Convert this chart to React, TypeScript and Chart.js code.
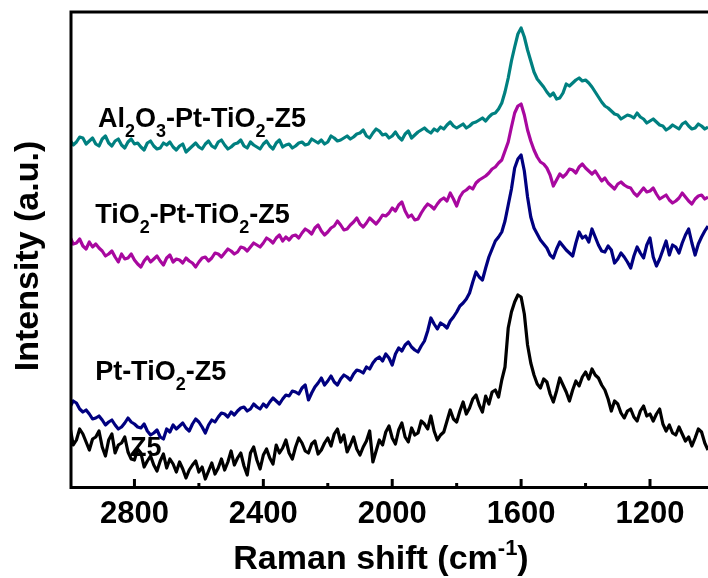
import React, { useEffect, useRef } from "react";
import { Chart, registerables } from "chart.js";

Chart.register(...registerables);

// Raman shift grid (cm^-1) at 10 cm^-1 steps
const WAVENUMBERS = [
  3000, 2990, 2980, 2970, 2960, 2950, 2940, 2930, 2920, 2910, 2900, 2890, 2880, 2870, 2860, 2850, 2840, 2830, 2820, 2810,
  2800, 2790, 2780, 2770, 2760, 2750, 2740, 2730, 2720, 2710, 2700, 2690, 2680, 2670, 2660, 2650, 2640, 2630, 2620, 2610,
  2600, 2590, 2580, 2570, 2560, 2550, 2540, 2530, 2520, 2510, 2500, 2490, 2480, 2470, 2460, 2450, 2440, 2430, 2420, 2410,
  2400, 2390, 2380, 2370, 2360, 2350, 2340, 2330, 2320, 2310, 2300, 2290, 2280, 2270, 2260, 2250, 2240, 2230, 2220, 2210,
  2200, 2190, 2180, 2170, 2160, 2150, 2140, 2130, 2120, 2110, 2100, 2090, 2080, 2070, 2060, 2050, 2040, 2030, 2020, 2010,
  2000, 1990, 1980, 1970, 1960, 1950, 1940, 1930, 1920, 1910, 1900, 1890, 1880, 1870, 1860, 1850, 1840, 1830, 1820, 1810,
  1800, 1790, 1780, 1770, 1760, 1750, 1740, 1730, 1720, 1710, 1700, 1690, 1680, 1670, 1660, 1650, 1640, 1630, 1620, 1610,
  1600, 1590, 1580, 1570, 1560, 1550, 1540, 1530, 1520, 1510, 1500, 1490, 1480, 1470, 1460, 1450, 1440, 1430, 1420, 1410,
  1400, 1390, 1380, 1370, 1360, 1350, 1340, 1330, 1320, 1310, 1300, 1290, 1280, 1270, 1260, 1250, 1240, 1230, 1220, 1210,
  1200, 1190, 1180, 1170, 1160, 1150, 1140, 1130, 1120, 1110, 1100, 1090, 1080, 1070, 1060, 1050, 1040, 1030, 1020,
];

// Intensities (a.u., offset-stacked as in the figure)
const AL2O3_PT_TIO2_Z5 = [
  349, 344, 347, 352, 351, 345, 348, 351, 345, 343, 350, 353, 346, 343, 348, 350, 344, 341, 347, 350,
  345, 346, 342, 339, 346, 348, 343, 340, 341, 346, 344, 347, 342, 339, 343, 345, 337, 340, 343, 346,
  342, 340, 345, 348, 343, 341, 347, 349, 344, 340, 342, 345, 346, 349, 343, 341, 347, 344, 342, 340,
  345, 348, 343, 340, 346, 349, 342, 344, 345, 341, 343, 346, 347, 344, 345, 350, 348, 346, 349, 345,
  347, 353, 351, 348, 349, 351, 353, 350, 352, 355, 356, 359, 353, 351, 356, 360, 358, 354, 355, 351,
  353, 357, 352, 349, 355, 358, 351, 354, 357, 359, 361, 358, 356, 360, 358, 362, 360, 364, 367, 363,
  361, 363, 365, 361, 363, 366, 367, 369, 371, 368, 372, 375, 376, 380, 386, 397, 411, 428, 442, 455,
  461, 452, 439, 428, 417, 410, 406, 402, 397, 393, 396, 390, 391, 396, 405, 403, 406, 409, 411, 408,
  409, 406, 402, 397, 392, 387, 383, 381, 378, 375, 374, 370, 372, 374, 373, 371, 376, 372, 370, 366,
  368, 370, 367, 364, 363, 359, 361, 364, 362, 360, 365, 367, 363, 360, 361, 365, 363, 360, 362,
];

const TIO2_PT_TIO2_Z5 = [
  252, 245, 246, 250, 243, 240, 247, 242, 245, 241, 238, 233, 235, 238, 232, 227, 235, 230, 231, 235,
  229, 225, 222, 228, 232, 227, 230, 233, 228, 224, 231, 234, 227, 230, 229, 226, 231, 228, 226, 222,
  227, 231, 232, 228, 231, 236, 235, 232, 236, 240, 238, 235, 237, 242, 241, 238, 242, 246, 244, 242,
  246, 251, 249, 246, 251, 254, 248, 252, 249, 253, 254, 251, 256, 260, 258, 255, 261, 264, 258, 254,
  257, 261, 263, 268, 264, 259, 260, 264, 267, 271, 265, 262, 266, 271, 268, 265, 269, 274, 273, 276,
  281, 278, 284, 287, 278, 272, 274, 269, 270, 276, 281, 285, 283, 280, 285, 289, 291, 288, 296, 290,
  283, 292, 297, 299, 302, 300, 306, 309, 311, 313, 316, 320, 322, 326, 329, 338, 347, 362, 376, 383,
  385, 374, 359, 348, 339, 332, 327, 325, 321, 314, 303, 309, 315, 312, 315, 320, 319, 316, 322, 325,
  321, 318, 315, 318, 313, 308, 311, 306, 303, 300, 305, 307, 304, 302, 301, 296, 293, 297, 301, 297,
  298, 301, 295, 290, 292, 294, 289, 286, 288, 291, 296, 292, 288, 285, 290, 293, 294, 290, 292,
];

const PT_TIO2_Z5 = [
  82, 88, 86, 80, 77, 79, 75, 70, 71, 73, 69, 64, 67, 69, 64, 60, 62, 66, 71, 67,
  65, 62, 61, 65, 58, 54, 56, 59, 52, 50, 60, 57, 64, 60, 63, 66, 61, 58, 65, 70,
  67, 62, 56, 64, 69, 67, 72, 76, 75, 72, 77, 74, 78, 81, 82, 78, 80, 85, 82, 80,
  85, 82, 87, 91, 88, 85, 90, 94, 93, 98, 97, 95, 101, 104, 89, 96, 102, 106, 111, 104,
  108, 113, 107, 104, 110, 114, 112, 109, 115, 119, 118, 116, 122, 120, 126, 130, 132, 128, 135, 131,
  124, 135, 141, 138, 144, 147, 142, 139, 137, 143, 148, 158, 171, 165, 160, 166, 164, 161, 168, 172,
  177, 183, 186, 190, 196, 207, 217, 212, 209, 221, 232, 240, 248, 252, 257, 268, 284, 300, 321, 330,
  334, 318, 292, 272, 261, 255, 249, 245, 241, 234, 231, 240, 247, 243, 239, 236, 233, 246, 257, 251,
  253, 247, 260, 252, 244, 238, 237, 243, 239, 226, 230, 236, 232, 227, 221, 233, 242, 236, 231, 244,
  251, 232, 223, 230, 239, 248, 234, 244, 242, 236, 246, 254, 260, 246, 234, 245, 252, 258, 263,
];

const Z5 = [
  62, 44, 49, 60, 55, 47, 39, 50, 52, 58, 42, 33, 49, 55, 36, 44, 46, 52, 37, 30,
  29, 40, 36, 22, 28, 33, 24, 18, 28, 35, 21, 30, 25, 17, 27, 20, 11, 19, 24, 28,
  17, 22, 10, 18, 26, 15, 21, 30, 19, 27, 38, 24, 31, 36, 23, 14, 36, 42, 29, 20,
  34, 40, 31, 25, 44, 36, 41, 49, 36, 30, 42, 51, 46, 38, 36, 45, 48, 35, 39, 46,
  51, 43, 55, 60, 47, 54, 37, 44, 52, 40, 34, 42, 48, 58, 27, 38, 49, 44, 57, 63,
  51, 45, 59, 66, 52, 47, 61, 54, 56, 68, 65, 60, 73, 58, 49, 54, 57, 68, 79, 70,
  67, 78, 87, 75, 81, 90, 94, 84, 77, 93, 85, 97, 99, 92, 109, 122, 161, 177, 187, 194,
  192, 175, 144, 126, 114, 105, 101, 110, 107, 95, 87, 98, 111, 104, 97, 88, 99, 108, 103, 112,
  117, 110, 120, 114, 111, 104, 99, 90, 78, 88, 85, 76, 71, 78, 80, 72, 68, 78, 83, 73,
  75, 68, 75, 80, 65, 58, 64, 56, 54, 62, 55, 48, 52, 43, 51, 60, 57, 46, 39,
];

const MAJOR_TICKS = [2800, 2400, 2000, 1600, 1200];
const MINOR_TICKS = [2600, 2200, 1800, 1400];

const X_TITLE = [["Raman shift (cm", 0], ["-1", -1], [")", 0]];
const Y_TITLE = "Intensity (a.u.)";

const SERIES_LABELS = [
  { parts: [["Al", 0], ["2", 1], ["O", 0], ["3", 1], ["-Pt-TiO", 0], ["2", 1], ["-Z5", 0]], x: 2913, y: 362 },
  { parts: [["TiO", 0], ["2", 1], ["-Pt-TiO", 0], ["2", 1], ["-Z5", 0]], x: 2922, y: 266 },
  { parts: [["Pt-TiO", 0], ["2", 1], ["-Z5", 0]], x: 2922, y: 109 },
  { parts: [["Z5", 0]], x: 2814, y: 33 },
];

const FONT = '"Liberation Sans", Arial, Helvetica, sans-serif';

function richWidth(ctx: CanvasRenderingContext2D, parts: any[], size: number) {
  let w = 0;
  for (const [t, s] of parts) {
    const fs = s ? Math.round(size * 0.65) : size;
    ctx.font = `bold ${fs}px ${FONT}`;
    w += ctx.measureText(t).width;
  }
  return w;
}

function drawRich(ctx: CanvasRenderingContext2D, parts: any[], x: number, y: number, size: number) {
  let cx = x;
  ctx.textAlign = "left";
  ctx.textBaseline = "alphabetic";
  for (const [t, s] of parts) {
    const fs = s ? Math.round(size * 0.65) : size;
    ctx.font = `bold ${fs}px ${FONT}`;
    const dy = s === 1 ? size * 0.36 : s === -1 ? -size * 0.42 : 0;
    ctx.fillText(t, cx, y + dy);
    cx += ctx.measureText(t).width;
  }
}

const labelPlugin = {
  id: "seriesLabels",
  beforeDatasetsDraw(chart: any) {
    const { ctx, scales } = chart;
    ctx.save();
    ctx.fillStyle = "#000";
    for (const l of SERIES_LABELS) {
      const px = scales.x.getPixelForValue(l.x);
      const py = scales.y.getPixelForValue(l.y);
      drawRich(ctx, l.parts, px, py, 27);
    }
    ctx.restore();
  },
  afterDraw(chart: any) {
    const { ctx, chartArea, scales } = chart;
    const { left, top, right, bottom } = chartArea;
    ctx.save();
    ctx.strokeStyle = "#000";
    ctx.lineWidth = 3;
    ctx.lineCap = "square";
    ctx.beginPath();
    ctx.moveTo(right + 2, top);
    ctx.lineTo(left + 1, top);
    ctx.lineTo(left + 1, bottom - 1.5);
    ctx.lineTo(right + 2, bottom - 1.5);
    ctx.stroke();
    ctx.lineCap = "butt";
    for (const v of MAJOR_TICKS) {
      const px = scales.x.getPixelForValue(v);
      ctx.beginPath();
      ctx.moveTo(px, bottom - 1.5);
      ctx.lineTo(px, bottom - 10);
      ctx.stroke();
    }
    for (const v of MINOR_TICKS) {
      const px = scales.x.getPixelForValue(v);
      ctx.beginPath();
      ctx.moveTo(px, bottom - 1.5);
      ctx.lineTo(px, bottom - 6);
      ctx.stroke();
    }
    ctx.fillStyle = "#000";
    const tsize = 34;
    const w = richWidth(ctx, X_TITLE, tsize);
    drawRich(ctx, X_TITLE, 381 - w / 2, 569, tsize);
    ctx.translate(29, 256);
    ctx.rotate(-Math.PI / 2);
    ctx.font = `bold ${tsize}px ${FONT}`;
    ctx.textAlign = "center";
    ctx.textBaseline = "middle";
    ctx.fillText(Y_TITLE, 0, 0);
    ctx.restore();
  },
};

export default function App() {
  const ref = useRef<HTMLCanvasElement | null>(null);
  useEffect(() => {
    if (!ref.current) return;
    const mk = (data: number[], color: string) => ({
      data: WAVENUMBERS.map((x, i) => ({ x, y: data[i] })),
      borderColor: color,
      backgroundColor: color,
      borderWidth: 3.2,
      pointRadius: 0,
      tension: 0,
      borderJoinStyle: "round" as const,
    });
    const chart = new Chart(ref.current, {
      type: "line",
      data: {
        datasets: [
          mk(Z5, "#000000"),
          mk(PT_TIO2_Z5, "#000080"),
          mk(TIO2_PT_TIO2_Z5, "#A8089F"),
          mk(AL2O3_PT_TIO2_Z5, "#008080"),
        ],
      },
      options: {
        animation: false,
        responsive: false,
        layout: { padding: { top: 12, right: 0, left: 0, bottom: 0 } },
        plugins: { legend: { display: false }, tooltip: { enabled: false } },
        scales: {
          x: {
            type: "linear",
            reverse: true,
            min: 1020,
            max: 3000,
            afterBuildTicks: (s: any) => {
              s.ticks = MAJOR_TICKS.map((v) => ({ value: v }));
            },
            afterFit: (s: any) => {
              s.height = 89;
              s.paddingLeft = 0;
              s.paddingRight = 0;
            },
            grid: { display: false, drawTicks: false, tickLength: 0 },
            border: { display: false },
            ticks: {
              autoSkip: false,
              maxRotation: 0,
              padding: 7,
              color: "#000",
              font: { family: FONT, size: 31, weight: "bold" },
              callback: (v: any) => String(v),
            },
          },
          y: {
            min: 0,
            max: 477,
            afterFit: (s: any) => {
              s.width = 70;
            },
            grid: { display: false, drawTicks: false },
            border: { display: false },
            ticks: { display: false },
          },
        },
      },
      plugins: [labelPlugin],
    });
    return () => chart.destroy();
  }, []);
  return (
    <div style={{ position: "absolute", left: 0, top: 0, width: 708, height: 578, background: "#fff" }}>
      <canvas ref={ref} width={708} height={578} style={{ display: "block" }} />
    </div>
  );
}
